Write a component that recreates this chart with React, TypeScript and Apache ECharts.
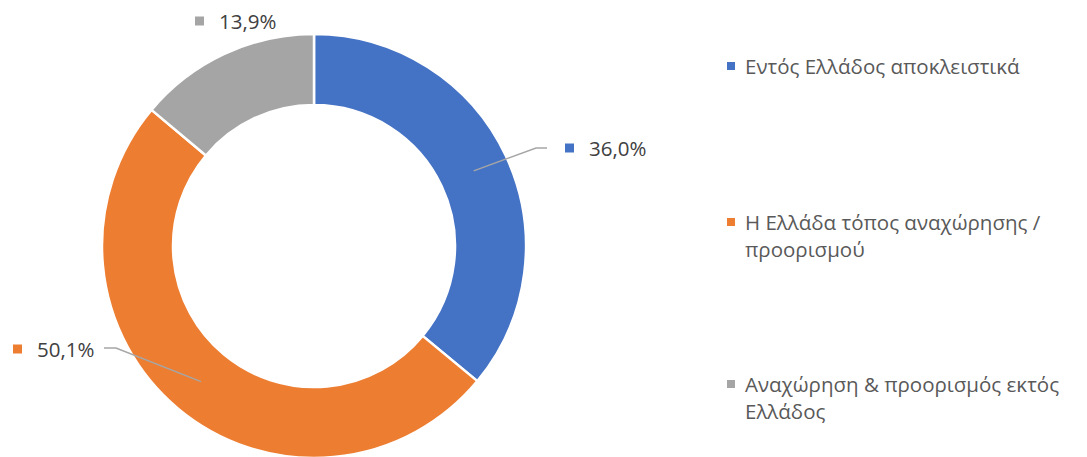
import { useEffect, useRef } from "react";
import * as echarts from "echarts";

const categories = [
  "Εντός Ελλάδος αποκλειστικά",
  "Η Ελλάδα τόπος αναχώρησης / προορισμού",
  "Αναχώρηση & προορισμός εκτός Ελλάδος",
];
// legend text as wrapped in the reference
const legendLabels = [
  "Εντός Ελλάδος αποκλειστικά",
  "Η Ελλάδα τόπος αναχώρησης /\nπροορισμού",
  "Αναχώρηση & προορισμός εκτός\nΕλλάδος",
];
const values = [36.0, 50.1, 13.9];
const colors = ["#4472c4", "#ed7d31", "#a5a5a5"];

// layout constants
const W = 1087;
const H = 457;
const CX = 314;
const CY = 246;
const R_IN = 141;
const R_OUT = 212;
const FONT = "'Open Sans', 'Noto Sans', sans-serif";

// label anchors (left edge of marker, vertical centre) and leader-line elbows
const labelAnchors = [
  { x: 565, y: 148, elbow: [[536, 148], [547, 148]] },
  { x: 13, y: 349, elbow: [[116, 348], [104, 348]] },
  { x: 195, y: 21, elbow: null as null | number[][] },
];
const legendCenters = [66, 222, 384];

const fmt = (v: number) => v.toFixed(1).replace(".", ",") + "%";

function midAngle(i: number) {
  const total = values.reduce((a, b) => a + b, 0);
  let acc = 0;
  for (let k = 0; k < i; k++) acc += values[k];
  const frac = (acc + values[i] / 2) / total;
  return frac * Math.PI * 2; // clockwise from top
}

export default function App() {
  const ref = useRef<HTMLDivElement>(null);
  useEffect(() => {
    document.body.style.margin = "0";
    if (!ref.current) return;
    const chart = echarts.init(ref.current, undefined, { renderer: "svg" });
    const rich: any = {
      sp: { width: 15, verticalAlign: "middle" },
      v: { fontSize: 20.5, color: "#404040", fontFamily: FONT, verticalAlign: "middle" },
    };
    colors.forEach((c, i) => {
      rich["sq" + i] = { width: 9, height: 9, backgroundColor: c, fontSize: 1, verticalAlign: "middle" };
    });

    const graphic: any[] = [];
    legendLabels.forEach((name, i) => {
      const cy = legendCenters[i];
      graphic.push({
        type: "rect",
        shape: { x: 727, y: cy - 4, width: 8, height: 8 },
        style: { fill: colors[i] },
      });
      graphic.push({
        type: "text",
        x: 745,
        y: cy - 14,
        style: {
          text: name,
          lineHeight: 27,
          fontSize: 20.5,
          fontFamily: FONT,
          fill: "#595959",
          verticalAlign: "top",
          align: "left",
        },
      });
    });

    const common = {
      type: "pie",
      center: [CX, CY],
      radius: [R_IN, R_OUT],
      startAngle: 90,
      clockwise: true,
      avoidLabelOverlap: false,
      emphasis: { disabled: true },
    };

    chart.setOption({
      animation: false,
      graphic,
      series: [
        {
          ...common,
          z: 2,
          itemStyle: { borderColor: "#ffffff", borderWidth: 2.5 },
          label: { show: false },
          labelLine: { show: false },
          data: categories.map((name, i) => ({
            name,
            value: values[i],
            itemStyle: { color: colors[i] },
          })),
        },
        {
          ...common,
          z: 5,
          silent: true,
          itemStyle: { color: "rgba(0,0,0,0)", borderWidth: 0 },
          label: {
            show: true,
            position: "outside",
            formatter: (p: any) => `{sq${p.dataIndex}| }{sp| }{v|${fmt(p.value)}}`,
            rich,
          },
          labelLine: {
            show: true,
            length: 10,
            length2: 10,
            smooth: false,
            lineStyle: { color: "#a6a6a6", width: 1.5 },
          },
          labelLayout: (params: any) => {
            const i = params.dataIndex;
            const a = labelAnchors[i];
            const out: any = { x: a.x, y: a.y, align: "left", verticalAlign: "middle" };
            if (a.elbow) {
              const ang = midAngle(i);
              const rm = (R_IN + R_OUT) / 2;
              const start = [CX + rm * Math.sin(ang), CY - rm * Math.cos(ang)];
              out.labelLinePoints = [start, a.elbow[0], a.elbow[1]];
            }
            return out;
          },
          data: categories.map((name, i) => ({
            name,
            value: values[i],
            labelLine: { show: labelAnchors[i].elbow != null },
          })),
        },
      ],
    });
    return () => chart.dispose();
  }, []);
  return <div ref={ref} style={{ width: W, height: H }} />;
}
